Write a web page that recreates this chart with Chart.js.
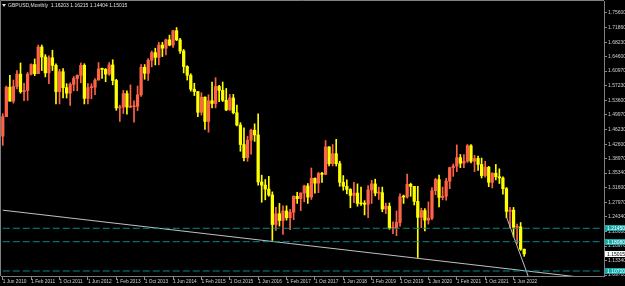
<!DOCTYPE html>
<html>
<head>
<meta charset="utf-8">
<script src="https://cdn.jsdelivr.net/npm/chart.js@4.4.1/dist/chart.umd.min.js"></script>
<style>
  html, body { margin: 0; padding: 0; background: #000; }
  #wrap { width: 625px; height: 286px; position: relative; }
</style>
</head>
<body>
<div id="wrap"><canvas id="gbp"></canvas></div>
<script>
// GBPUSD monthly candles, Jun 2010 .. Sep 2022 (last one still open)
var opens = [
  1.4460, 1.4950, 1.5690, 1.5340, 1.5710, 1.6020, 1.5580,
  1.5610, 1.6020, 1.6260, 1.6030, 1.6700, 1.6450, 1.6050, 1.6430, 1.6240, 1.5580, 1.6080, 1.5680,
  1.5540, 1.5760, 1.5910, 1.5990, 1.6240, 1.5410, 1.5680, 1.5690, 1.5870, 1.6150, 1.6140, 1.6020,
  1.6250, 1.5860, 1.5170, 1.5190, 1.5530, 1.5190, 1.5200, 1.5210, 1.5500, 1.6190, 1.6040, 1.6370,
  1.6560, 1.6440, 1.6750, 1.6670, 1.6880, 1.6750, 1.7110, 1.6880, 1.6600, 1.6210, 1.5990, 1.5640,
  1.5580, 1.5060, 1.5440, 1.4830, 1.5350, 1.5280, 1.5710, 1.5610, 1.5360, 1.5120, 1.5420, 1.5050,
  1.4740, 1.4250, 1.3920, 1.4360, 1.4610, 1.4490, 1.3310, 1.3230, 1.3130, 1.2980, 1.2240, 1.2510,
  1.2340, 1.2580, 1.2410, 1.2550, 1.2950, 1.2890, 1.3030, 1.3210, 1.2930, 1.3400, 1.3280, 1.3520,
  1.3500, 1.4190, 1.3770, 1.4020, 1.3770, 1.3300, 1.3200, 1.3120, 1.2970, 1.3030, 1.2770, 1.2760,
  1.2750, 1.3110, 1.3260, 1.3030, 1.3040, 1.2630, 1.2700, 1.2150, 1.2160, 1.2290, 1.2940, 1.2930,
  1.3250, 1.3200, 1.2820, 1.2420, 1.2590, 1.2350, 1.2400, 1.3090, 1.3370, 1.2920, 1.2950, 1.3330,
  1.3670, 1.3710, 1.3920, 1.3780, 1.3830, 1.4220, 1.3830, 1.3900, 1.3750, 1.3470, 1.3680, 1.3300,
  1.3530, 1.3440, 1.3410, 1.3140, 1.2570, 1.2600, 1.2170, 1.2180, 1.16203
];
var highs = [
  1.5025, 1.5720, 1.5990, 1.5870, 1.6110, 1.6300, 1.5790,
  1.6060, 1.6280, 1.6400, 1.6750, 1.6750, 1.6510, 1.6480, 1.6620, 1.6280, 1.6140, 1.6160, 1.5780,
  1.5800, 1.5960, 1.6000, 1.6300, 1.6280, 1.5780, 1.5780, 1.5910, 1.6310, 1.6170, 1.6160, 1.6310,
  1.6380, 1.5890, 1.5240, 1.5610, 1.5600, 1.5750, 1.5350, 1.5720, 1.6260, 1.6260, 1.6410, 1.6600,
  1.6670, 1.6820, 1.6820, 1.6900, 1.7000, 1.7120, 1.7190, 1.6920, 1.6640, 1.6230, 1.6030, 1.5790,
  1.5590, 1.5550, 1.5450, 1.5500, 1.5820, 1.5930, 1.5740, 1.5820, 1.5660, 1.5510, 1.5510, 1.5240,
  1.4800, 1.4670, 1.4460, 1.4640, 1.4770, 1.5020, 1.3480, 1.3370, 1.3450, 1.3060, 1.2670, 1.2770,
  1.2710, 1.2710, 1.2620, 1.2960, 1.3050, 1.3040, 1.3230, 1.3270, 1.3660, 1.3410, 1.3550, 1.3550,
  1.4350, 1.4200, 1.4250, 1.4380, 1.3830, 1.3470, 1.3360, 1.3140, 1.3300, 1.3260, 1.3180, 1.2840,
  1.3220, 1.3350, 1.3380, 1.3180, 1.3180, 1.2780, 1.2780, 1.2310, 1.2580, 1.3010, 1.2980, 1.3510,
  1.3280, 1.3200, 1.3200, 1.2650, 1.2640, 1.2810, 1.3170, 1.3400, 1.3480, 1.3180, 1.3400, 1.3680,
  1.3760, 1.4240, 1.4000, 1.4000, 1.4250, 1.4250, 1.3980, 1.3960, 1.3910, 1.3830, 1.3700, 1.3540,
  1.3750, 1.3640, 1.3440, 1.3170, 1.2670, 1.2670, 1.2250, 1.2290, 1.16215
];
var lows = [
  1.4230, 1.4950, 1.5340, 1.5290, 1.5650, 1.5540, 1.5350,
  1.5360, 1.6000, 1.5980, 1.6030, 1.6110, 1.5950, 1.5780, 1.6110, 1.5270, 1.5270, 1.5420, 1.5420,
  1.5230, 1.5600, 1.5600, 1.5800, 1.5270, 1.5270, 1.5400, 1.5500, 1.5870, 1.5910, 1.5830, 1.5990,
  1.5750, 1.5110, 1.4830, 1.5030, 1.5010, 1.5180, 1.4810, 1.5100, 1.5460, 1.5890, 1.5860, 1.6200,
  1.6250, 1.6250, 1.6460, 1.6500, 1.6730, 1.6690, 1.6860, 1.6540, 1.6050, 1.5870, 1.5590, 1.5480,
  1.4950, 1.4990, 1.4630, 1.4560, 1.5170, 1.5170, 1.5330, 1.5330, 1.5100, 1.5110, 1.5020, 1.4720,
  1.4080, 1.3840, 1.3830, 1.4010, 1.4330, 1.3230, 1.2800, 1.2860, 1.2950, 1.1840, 1.2090, 1.2200,
  1.1990, 1.2350, 1.2110, 1.2360, 1.2770, 1.2590, 1.2810, 1.2770, 1.2870, 1.3030, 1.3040, 1.3300,
  1.3490, 1.3710, 1.3710, 1.3710, 1.3200, 1.3100, 1.3010, 1.2660, 1.2790, 1.2700, 1.2720, 1.2480,
  1.2410, 1.2770, 1.2960, 1.2870, 1.2560, 1.2510, 1.2120, 1.2010, 1.1960, 1.2200, 1.2770, 1.2900,
  1.2950, 1.2730, 1.1410, 1.2160, 1.2080, 1.2250, 1.2360, 1.2990, 1.2680, 1.2860, 1.2850, 1.3140,
  1.3450, 1.3570, 1.3670, 1.3670, 1.3800, 1.3790, 1.3570, 1.3600, 1.3410, 1.3430, 1.3190, 1.3160,
  1.3360, 1.3270, 1.3000, 1.2410, 1.2160, 1.1930, 1.1760, 1.1590, 1.14404
];
var closes = [
  1.4950, 1.5690, 1.5340, 1.5710, 1.6020, 1.5580, 1.5610,
  1.6020, 1.6260, 1.6030, 1.6700, 1.6450, 1.6050, 1.6430, 1.6240, 1.5580, 1.6080, 1.5680, 1.5540,
  1.5760, 1.5910, 1.5990, 1.6240, 1.5410, 1.5680, 1.5690, 1.5870, 1.6150, 1.6140, 1.6020, 1.6250,
  1.5860, 1.5170, 1.5190, 1.5530, 1.5190, 1.5200, 1.5210, 1.5500, 1.6190, 1.6040, 1.6370, 1.6560,
  1.6440, 1.6750, 1.6670, 1.6880, 1.6750, 1.7110, 1.6880, 1.6600, 1.6210, 1.5990, 1.5640, 1.5580,
  1.5060, 1.5440, 1.4830, 1.5350, 1.5280, 1.5710, 1.5610, 1.5360, 1.5120, 1.5420, 1.5050, 1.4740,
  1.4250, 1.3920, 1.4360, 1.4610, 1.4490, 1.3310, 1.3230, 1.3130, 1.2980, 1.2240, 1.2510, 1.2340,
  1.2580, 1.2410, 1.2550, 1.2950, 1.2890, 1.3030, 1.3210, 1.2930, 1.3400, 1.3280, 1.3520, 1.3500,
  1.4190, 1.3770, 1.4020, 1.3770, 1.3300, 1.3200, 1.3120, 1.2970, 1.3030, 1.2770, 1.2760, 1.2750,
  1.3110, 1.3260, 1.3030, 1.3040, 1.2630, 1.2700, 1.2150, 1.2160, 1.2290, 1.2940, 1.2930, 1.3250,
  1.3200, 1.2820, 1.2420, 1.2590, 1.2350, 1.2400, 1.3090, 1.3370, 1.2920, 1.2950, 1.3330, 1.3670,
  1.3710, 1.3920, 1.3780, 1.3830, 1.4220, 1.3830, 1.3900, 1.3750, 1.3470, 1.3680, 1.3300, 1.3530,
  1.3440, 1.3410, 1.3140, 1.2570, 1.2600, 1.2170, 1.2180, 1.1620, 1.15015
];

// price axis labels as the terminal prints them
var yTicks = [1.09710, 1.13340, 1.16970, 1.20600, 1.24340, 1.27970, 1.31600, 1.35340, 1.38970,
  1.42600, 1.46230, 1.49970, 1.53600, 1.57230, 1.60970, 1.64600, 1.68230, 1.71860, 1.75600];
var yMin = 1.0946, yMax = 1.7857;

// horizontal levels (dashed) and two trend lines given as [barIndex, price]
var levels = [1.2145, 1.1808, 1.1072];
var trendA = [[0, 1.2600], [169, 1.0852]];
var trendB = [[142, 1.2429], [149, 1.0728]];

var title = 'GBPUSD,Monthly  1.16203 1.16215 1.14404 1.15015';

var monthNames = ['Jan','Feb','Mar','Apr','May','Jun','Jul','Aug','Sep','Oct','Nov','Dec'];
var slots = 170; // bars + empty space on the right
var months = [];
for (var i = 0; i < slots; i++) {
  var k = 5 + i;
  months.push(monthNames[k % 12] + ' ' + (2010 + Math.floor(k / 12)));
}

var upColor = '#ff6347';
var downColor = '#ffff00';
var n = closes.length;
var bodies = [], wicks = [], colors = [];
for (var i = 0; i < slots; i++) {
  if (i < n) {
    bodies.push([opens[i], closes[i]]);
    wicks.push([lows[i], highs[i]]);
    colors.push(closes[i] >= opens[i] ? upColor : downColor);
  } else {
    bodies.push(null);
    wicks.push(null);
    colors.push(upColor);
  }
}

function segment(pts) {
  var arr = months.map(function () { return null; });
  pts.forEach(function (p) { arr[p[0]] = p[1]; });
  return arr;
}

var datasets = [
  { label: 'body', data: bodies, backgroundColor: colors, barThickness: 2.6, grouped: false, minBarLength: 1, order: 1 },
  { label: 'wick', data: wicks, backgroundColor: colors, barThickness: 1, grouped: false, order: 2 }
];
levels.forEach(function (lv) {
  datasets.push({ type: 'line', label: 'level', data: months.map(function () { return lv; }),
    borderColor: '#0a8c8c', borderWidth: 1, borderDash: [7, 3], pointRadius: 0, order: 0 });
});
[trendA, trendB].forEach(function (t) {
  datasets.push({ type: 'line', label: 'trend', data: segment(t), spanGaps: true,
    borderColor: '#c0c0c0', borderWidth: 1, pointRadius: 0, order: 0 });
});

// frame, header text and price tags on the right axis
var extras = {
  id: 'extras',
  afterDraw: function (chart) {
    var c = chart.ctx, a = chart.chartArea, ys = chart.scales.y;
    c.save();
    c.strokeStyle = '#808080';
    c.lineWidth = 1;
    c.beginPath();
    c.moveTo(a.left - 0.5, a.bottom);
    c.lineTo(a.left - 0.5, a.top - 0.5);
    c.lineTo(a.right, a.top - 0.5);
    c.stroke();

    c.fillStyle = '#e0e0e0';
    c.beginPath();
    c.moveTo(2, 4); c.lineTo(6, 4); c.lineTo(4, 7); c.closePath();
    c.fill();
    c.font = '5px "Liberation Sans"';
    c.textBaseline = 'middle';
    c.textAlign = 'left';
    c.fillText(title, 8, 5.5);

    var tags = levels.map(function (lv) { return { v: lv, bg: '#13a8a8', fg: '#ffffff' }; });
    tags.push({ v: closes[n - 1], bg: '#ffffff', fg: '#000000' });
    tags.forEach(function (t) {
      var y = ys.getPixelForValue(t.v);
      c.fillStyle = t.bg;
      c.fillRect(a.right + 1, Math.round(y) - 3, 20, 6);
      c.fillStyle = t.fg;
      c.fillText(t.v.toFixed(5), a.right + 3, Math.round(y) + 0.5);
    });
    c.restore();
  }
};

Chart.defaults.font.family = '"Liberation Sans", Arial, sans-serif';

var chart = new Chart(document.getElementById('gbp').getContext('2d'), {
  type: 'bar',
  data: { labels: months, datasets: datasets },
  options: {
    responsive: true,
    maintainAspectRatio: false,
    animation: false,
    events: [],
    layout: { padding: { top: 1, left: 1, right: 0, bottom: 0 } },
    plugins: { legend: { display: false }, tooltip: { enabled: false } },
    scales: {
      x: {
        offset: true,
        grid: {
          offset: false,
          drawOnChartArea: false,
          tickLength: 4,
          color: function (ctx) {
            return (ctx.index % 8 === 0 && ctx.index < n) ? '#8c8c8c' : 'rgba(0,0,0,0)';
          }
        },
        border: { color: '#808080' },
        ticks: {
          autoSkip: false,
          maxRotation: 0,
          minRotation: 0,
          align: 'start',
          padding: -1,
          color: '#d0d0d0',
          font: { size: 4.8 },
          callback: function (v, i) {
            return (i % 8 === 0 && i < n) ? '1 ' + months[i] : '';
          }
        },
        afterFit: function (s) { s.height = 10; s.paddingLeft = 0; s.paddingRight = 0; }
      },
      y: {
        position: 'right',
        min: yMin,
        max: yMax,
        grid: { drawOnChartArea: false, tickLength: 3, color: '#8c8c8c' },
        border: { color: '#808080' },
        ticks: {
          padding: 1,
          color: '#d0d0d0',
          font: { size: 5 },
          callback: function (v) { return Number(v).toFixed(5); }
        },
        afterBuildTicks: function (s) {
          s.ticks = yTicks.map(function (v) { return { value: v }; });
        },
        afterFit: function (s) { s.width = 21; s.paddingTop = 0; s.paddingBottom = 0; }
      }
    }
  },
  plugins: [extras]
});
</script>
</body>
</html>
